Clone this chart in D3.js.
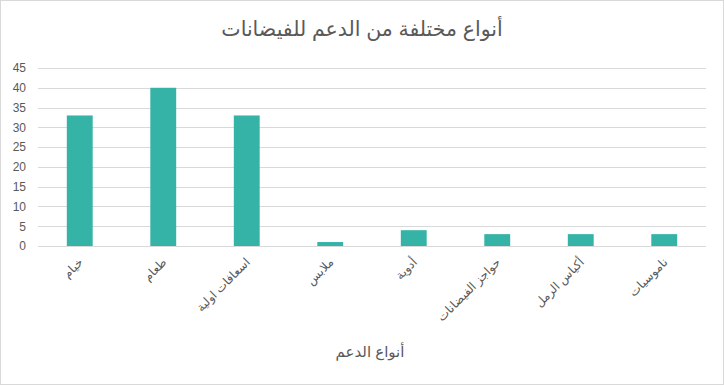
<!DOCTYPE html>
<html>
<head>
<meta charset="utf-8">
<script src="https://cdn.jsdelivr.net/npm/d3@7"></script>
<style>
  body { margin: 0; background: #fff; }
  svg { display: block; }
</style>
</head>
<body>
<div id="chart"></div>
<script>
var categories = ["خيام", "طعام", "اسعافات اولية", "ملابس", "أدوية", "حواجز الفيضانات", "أكياس الرمل", "ناموسيات"];
var values = [33, 40, 33, 1, 4, 3, 3, 3];
var yTicks = [0, 5, 10, 15, 20, 25, 30, 35, 40, 45];
var chartTitle = "أنواع مختلفة من الدعم للفيضانات";
var xTitle = "أنواع الدعم";

var width = 724, height = 385;
var plotLeft = 38, plotRight = 706, plotTop = 68, plotBottom = 246;
var font = "Arial, 'DejaVu Sans', sans-serif";

var canvas = d3.select("#chart")
    .append("svg").attr("width", width).attr("height", height);

canvas.append("rect")
    .attr("x", 0.5).attr("y", 0.5)
    .attr("width", width - 1).attr("height", height - 1)
    .attr("fill", "#fff").attr("stroke", "#d9d9d9");

var x = d3.scaleBand().domain(categories).range([plotLeft, plotRight]).paddingInner(0.69).paddingOuter(0.345);
var y = d3.scaleLinear().domain([0, 45]).range([plotBottom, plotTop]);

// gridlines
canvas.selectAll(".grid")
    .data(yTicks)
    .enter()
    .append("line")
    .attr("x1", plotLeft).attr("x2", plotRight)
    .attr("y1", function(d) { return Math.round(y(d)) + 0.5; })
    .attr("y2", function(d) { return Math.round(y(d)) + 0.5; })
    .attr("stroke", "#d9d9d9");

// y axis labels
var yAxis = d3.axisLeft(y).tickValues(yTicks).tickSize(0).tickPadding(12);
var yg = canvas.append("g").attr("transform", "translate(" + plotLeft + ",0)").call(yAxis);
yg.select(".domain").remove();
yg.selectAll("text")
    .attr("font-family", font).attr("font-size", "12px").attr("fill", "#595959");

// bars
canvas.selectAll(".bar")
    .data(values)
    .enter()
    .append("rect")
    .attr("x", function(d, i) { return x(categories[i]); })
    .attr("y", function(d) { return y(d); })
    .attr("width", x.bandwidth())
    .attr("height", function(d) { return plotBottom - y(d); })
    .attr("fill", "#35b3a6");

// x labels
canvas.selectAll(".xlab")
    .data(categories)
    .enter()
    .append("text")
    .attr("transform", function(d) {
        return "translate(" + (x(d) + x.bandwidth() / 2 + 4) + "," + (plotBottom + 17) + ") rotate(-45)";
    })
    .attr("text-anchor", "end")
    .attr("font-family", font).attr("font-size", "12px").attr("fill", "#595959")
    .text(function(d) { return d; });

// titles
canvas.append("text")
    .attr("x", 362).attr("y", 36)
    .attr("text-anchor", "middle")
    .attr("font-family", font).attr("font-size", "20.5px").attr("fill", "#595959")
    .text(chartTitle);

canvas.append("text")
    .attr("x", 370).attr("y", 357)
    .attr("text-anchor", "middle")
    .attr("font-family", font).attr("font-size", "15px").attr("fill", "#595959")
    .text(xTitle);
</script>
</body>
</html>
